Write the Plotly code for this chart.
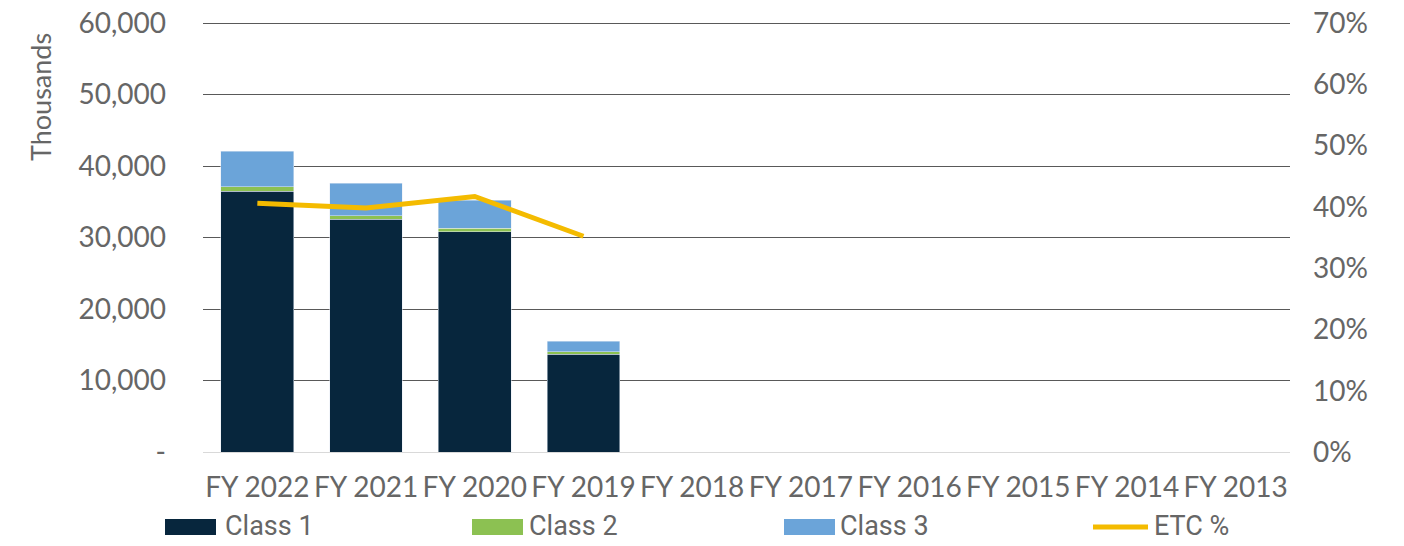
import plotly.graph_objects as go

categories = ["FY 2022", "FY 2021", "FY 2020", "FY 2019", "FY 2018", "FY 2017",
              "FY 2016", "FY 2015", "FY 2014", "FY 2013"]
class1 = [36500, 32550, 30770, 13660, None, None, None, None, None, None]
class2 = [600, 500, 500, 370, None, None, None, None, None, None]
class3 = [4950, 4530, 3920, 1450, None, None, None, None, None, None]
etc_pct = [0.406, 0.398, 0.417, 0.352, None, None, None, None, None, None]

left_ticks = [0, 10000, 20000, 30000, 40000, 50000, 60000]
left_labels = ["-", "10,000", "20,000", "30,000", "40,000", "50,000", "60,000"]
right_ticks = [0, 0.1, 0.2, 0.3, 0.4, 0.5, 0.6, 0.7]

series_names = ["Class 1", "Class 2", "Class 3", "ETC %"]
series_colors = ["#07263d", "#8cc152", "#6ba4d9", "#f4bb00"]

FONT = "Lato"
GRAY = "#666666"

W, H = 1396, 538
L, R, T, B = 195, 114, 11, 94
PW, PH = W - L - R, H - T - B
DATA_H = 429  # pixel height spanned by 0..60,000
PAD = PH / DATA_H  # headroom so the top gridline is drawn inside the plot


def px_x(x):
    return (x - L) / PW


def px_y(y):
    return (H - B - y) / PH


fig = go.Figure()
for name, vals, col in zip(series_names[:3], [class1, class2, class3], series_colors[:3]):
    fig.add_trace(go.Bar(x=categories, y=vals, name=name, marker_color=col,
                         showlegend=False))
fig.add_trace(go.Scatter(x=categories, y=etc_pct, name="ETC %", mode="lines",
                         line=dict(color=series_colors[3], width=5), yaxis="y2",
                         showlegend=False))

# custom legend (swatches + labels) below the plot
shapes = []
annotations = []
swatch_x = [157, 464, 776, 1085]
text_x = [215, 519, 830, 1144]
for i, (name, col) in enumerate(zip(series_names, series_colors)):
    x0 = swatch_x[i]
    if i < 3:
        shapes.append(dict(type="rect", xref="paper", yref="paper",
                           x0=px_x(x0), x1=px_x(x0 + 51), y0=px_y(527), y1=px_y(511),
                           fillcolor=col, line=dict(width=0)))
    else:
        shapes.append(dict(type="line", xref="paper", yref="paper",
                           x0=px_x(x0), x1=px_x(x0 + 55), y0=px_y(519), y1=px_y(519),
                           line=dict(color=col, width=5)))
    annotations.append(dict(text=name, xref="paper", yref="paper",
                            x=px_x(text_x[i]), y=px_y(517.5), xanchor="left", yanchor="middle",
                            showarrow=False,
                            font=dict(family="Roboto", size=27, color=GRAY)))

annotations.append(dict(text="Thousands", textangle=-90, xref="paper", yref="paper",
                        x=px_x(32), y=px_y(89), xanchor="center", yanchor="middle",
                        showarrow=False, font=dict(family=FONT, size=27, color=GRAY)))

fig.update_layout(
    width=W, height=H,
    margin=dict(l=L, r=R, t=T, b=B, autoexpand=False),
    barmode="stack", bargap=0.33,
    plot_bgcolor="white", paper_bgcolor="white",
    font=dict(family=FONT, size=28, color=GRAY),
    showlegend=False,
    xaxis=dict(showgrid=False, showline=True, linecolor="#d9d9d9", linewidth=1,
               ticks="", tickangle=0, ticklabelstandoff=10,
               tickfont=dict(size=28, color=GRAY)),
    yaxis=dict(range=[0, 60000 * PAD], tickvals=left_ticks, ticktext=left_labels,
               showgrid=True, gridcolor="#595959", gridwidth=1, zeroline=False,
               ticklabelstandoff=36, ticklabeloverflow="allow",
               tickfont=dict(size=28, color=GRAY)),
    yaxis2=dict(range=[0, 0.7 * PAD], tickvals=right_ticks, tickformat=".0%",
                overlaying="y", side="right", showgrid=False, zeroline=False,
                ticklabelstandoff=22, ticklabeloverflow="allow",
                tickfont=dict(size=28, color=GRAY)),
    shapes=shapes,
    annotations=annotations,
)

fig.write_html("out.html")
